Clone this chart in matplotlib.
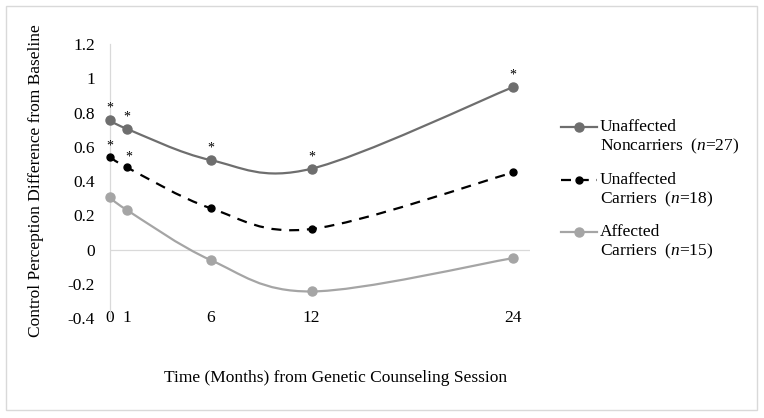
import matplotlib
matplotlib.use("Agg")
import matplotlib.pyplot as plt
import numpy as np
from matplotlib.lines import Line2D
from matplotlib.patches import PathPatch, Rectangle
from matplotlib.path import Path

plt.rcParams["font.family"] = "Liberation Serif"
plt.rcParams["mathtext.fontset"] = "custom"
plt.rcParams["mathtext.rm"] = "Liberation Serif"
plt.rcParams["mathtext.it"] = "Liberation Serif:italic"

months = [0, 1, 6, 12, 24]
noncarriers = [0.757, 0.705, 0.522, 0.472, 0.949]
carriers = [0.543, 0.48, 0.241, 0.12, 0.45]
affected = [0.307, 0.231, -0.062, -0.245, -0.05]

# which points carry a significance asterisk
noncarrier_stars = [True, True, True, True, True]
carrier_stars = [True, True, False, False, False]

y_ticks = [-0.4, -0.2, 0, 0.2, 0.4, 0.6, 0.8, 1, 1.2]

series = [
    ("Unaffected", "Noncarriers  ($\\mathit{n}$=27)", noncarriers, "#6e6e6e", "-", 6.5),
    ("Unaffected", "Carriers  ($\\mathit{n}$=18)", carriers, "black", (0, (4.5, 3.5)), 5),
    ("Affected", "Carriers  ($\\mathit{n}$=15)", affected, "#a5a5a5", "-", 6.5),
]

FS = 12.5


def smooth_path(x, y):
    # Excel-style smoothed line: cubic bezier through each point
    pts = np.column_stack([x, y]).astype(float)
    n = len(pts)
    verts = [pts[0]]
    codes = [Path.MOVETO]
    for i in range(n - 1):
        p0 = pts[max(i - 1, 0)]
        p1 = pts[i]
        p2 = pts[i + 1]
        p3 = pts[min(i + 2, n - 1)]
        verts += [p1 + (p2 - p0) / 6, p2 - (p3 - p1) / 6, p2]
        codes += [Path.CURVE4] * 3
    return Path(verts, codes)


fig = plt.figure(figsize=(7.64, 4.18), dpi=100)
ax = fig.add_axes([0.144, 0.2392, 0.5497, 0.6555])

for first, second, values, color, ls, ms in series:
    patch = PathPatch(
        smooth_path(months, values),
        facecolor="none",
        edgecolor=color,
        linewidth=1.6,
        linestyle=ls,
        clip_on=False,
        zorder=3,
    )
    ax.add_patch(patch)
    ax.plot(months, values, "o", color=color, markersize=ms, clip_on=False, zorder=4)

for x, y, s in zip(months, noncarriers, noncarrier_stars):
    if s:
        ax.annotate("*", (x, y), xytext=(0, 4), textcoords="offset points",
                    ha="center", va="bottom", fontsize=10)
for i, (x, y, s) in enumerate(zip(months, carriers, carrier_stars)):
    if s:
        dx = 1.5 if i == 1 else 0
        ax.annotate("*", (x, y), xytext=(dx, 3), textcoords="offset points",
                    ha="center", va="bottom", fontsize=10)

ax.axhline(0, color="#d9d9d9", linewidth=0.9, zorder=1)
ax.set_xlim(0, 25)
ax.set_ylim(-0.4, 1.2)
ax.set_xticks(months)
ax.set_xticklabels([str(m) for m in months])
ax.set_yticks(y_ticks)
ax.set_yticklabels([f"{v:g}" for v in y_ticks])
ax.tick_params(axis="both", length=0, labelsize=FS)
ax.tick_params(axis="y", pad=11)
ax.tick_params(axis="x", pad=-6)

for side in ["top", "right", "bottom"]:
    ax.spines[side].set_visible(False)
ax.spines["left"].set_color("#d9d9d9")
ax.spines["left"].set_linewidth(0.9)

ax.set_ylabel("Control Perception Difference from Baseline", fontsize=FS)
ax.yaxis.set_label_coords(-0.157, 0.5)
ax.set_xlabel("Time (Months) from Genetic Counseling Session", fontsize=FS)
ax.xaxis.set_label_coords(0.538, -0.188)

# legend drawn by hand so the marker sits on the first text line
legend_y = [127, 180, 232]
for (first, second, values, color, ls, ms), ypx in zip(series, legend_y):
    yf = 1 - ypx / 418
    fig.add_artist(Line2D([561 / 764, 597 / 764], [yf, yf], color=color,
                          linewidth=1.6, linestyle=ls))
    fig.add_artist(Line2D([579 / 764], [yf], marker="o", color=color,
                          markersize=ms, linestyle="none"))
    fig.text(600 / 764, yf, first, fontsize=FS, va="center", ha="left")
    fig.text(600 / 764, yf - 19 / 418, second, fontsize=FS, va="center", ha="left")

fig.add_artist(Rectangle((6 / 764, 8 / 418), 751 / 764, 404 / 418,
                         transform=fig.transFigure, fill=False,
                         edgecolor="#d9d9d9", linewidth=1))

fig.savefig("out.png", dpi=100)
